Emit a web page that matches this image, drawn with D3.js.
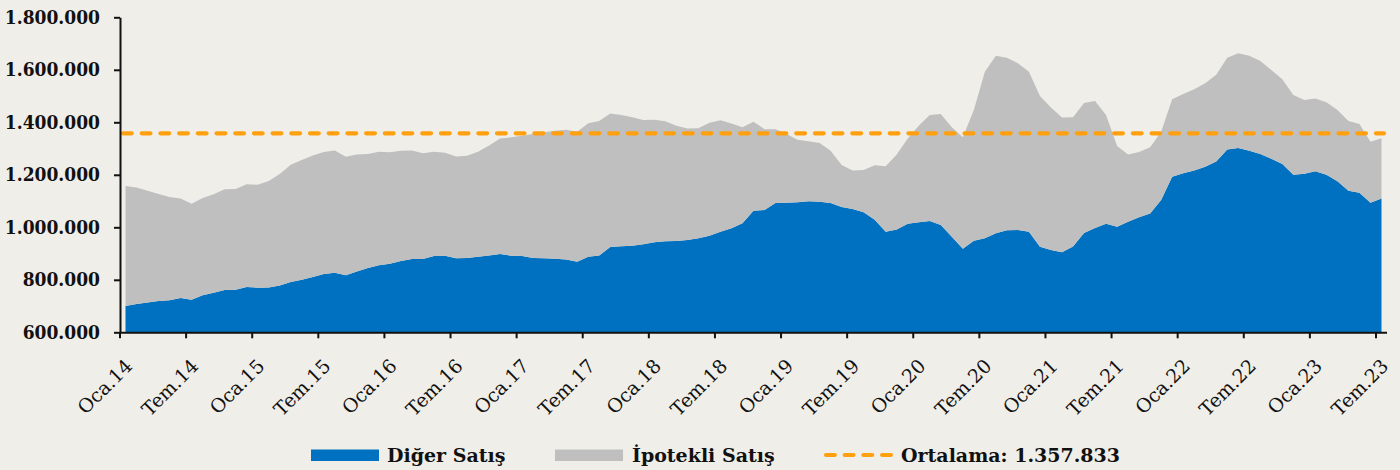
<!DOCTYPE html>
<html><head><meta charset="utf-8">
<script src="https://cdn.jsdelivr.net/npm/d3@7"></script>
<style>
body{margin:0;background:#F0EEE8;}
svg{display:block;}
</style>
</head><body>
<svg id="chart" width="1400" height="470"></svg>
<script>
// ---- data ----
const monthNames = ["Oca","Şub","Mar","Nis","May","Haz","Tem","Ağu","Eyl","Eki","Kas","Ara"];
const years = ["14","15","16","17","18","19","20","21","22","23"];
const categories = [];
years.forEach(y => monthNames.forEach(m => categories.push(m + "." + y)));
categories.splice(115); // Oca.14 ... Tem.23

const digerSatis = [
 700000,708000,714000,719000,722000,731000,724000,741000,751000,761000,762000,773000,
 770000,771000,778000,792000,800000,811000,822000,827000,817000,832000,845000,855000,
 861000,872000,879000,879000,891000,892000,882000,883000,888000,893000,898000,892000,
 891000,883000,882000,880000,877000,869000,888000,893000,925000,928000,930000,935000,
 943000,947000,948000,952000,958000,968000,983000,996000,1015000,1063000,1066000,1093000,
 1094000,1095000,1099000,1097000,1093000,1077000,1070000,1057000,1029000,983000,992000,1014000,
 1019000,1024000,1009000,964000,918000,949000,958000,977000,989000,990000,983000,926000,
 914000,905000,927000,978000,997000,1014000,1002000,1021000,1038000,1053000,1104000,1193000,
 1206000,1216000,1231000,1251000,1296000,1302000,1292000,1279000,1261000,1241000,1200000,1204000,
 1214000,1200000,1175000,1139000,1132000,1094000,1110000
];
const ipotekliSatis = [
 457000,444000,425000,408000,393000,379000,366000,371000,375000,384000,384000,391000,
 392000,405000,425000,446000,456000,463000,465000,466000,452000,445000,434000,433000,
 425000,420000,414000,403000,397000,392000,388000,390000,400000,419000,440000,451000,
 458000,472000,480000,488000,495000,495000,508000,512000,509000,500000,489000,474000,
 467000,457000,439000,424000,419000,430000,425000,399000,366000,339000,308000,281000,
 261000,239000,229000,224000,199000,160000,146000,161000,207000,250000,285000,324000,
 368000,404000,423000,417000,425000,498000,635000,677000,657000,635000,610000,574000,
 542000,513000,492000,496000,484000,414000,308000,256000,249000,252000,260000,295000,
 302000,310000,318000,330000,350000,361000,362000,355000,338000,323000,304000,281000,
 277000,276000,272000,266000,262000,232000,229000
];
const ortalama = 1357833;
const yTicks = [600000,800000,1000000,1200000,1400000,1600000,1800000];
const xTickLabels = ["Oca.14","Tem.14","Oca.15","Tem.15","Oca.16","Tem.16","Oca.17","Tem.17",
 "Oca.18","Tem.18","Oca.19","Tem.19","Oca.20","Tem.20","Oca.21","Tem.21","Oca.22","Tem.22","Oca.23","Tem.23"];
const seriesNames = ["Diğer Satış","İpotekli Satış","Ortalama: 1.357.833"];
const colors = ["#0070C0","#BFBFBF","#FFA010"];

// ---- chart ----
const svg = d3.select("#chart");
svg.append("rect").attr("width",1400).attr("height",470).attr("fill","#F0EEE8");

const plotLeft = 120, plotRight = 1387, plotTop = 17.3, plotBottom = 332.3;
const fontCond = "'DejaVu Serif Condensed','DejaVu Serif',serif";
const fontWide = "'DejaVu Serif',serif";

const trFmt = d3.formatLocale({decimal:",", thousands:".", grouping:[3], currency:["",""]}).format(",d");

const x = d3.scaleBand().domain(categories).range([plotLeft, plotRight]).paddingInner(0).paddingOuter(0);
const bw = x.bandwidth();
const cx = c => x(c) + bw/2;
const y = d3.scaleLinear().domain([600000,1800000]).range([plotBottom, plotTop]).clamp(true);

const rows = categories.map((c,i) => ({cat:c, diger:digerSatis[i], ipotekli:ipotekliSatis[i]}));
const stack = d3.stack().keys(["diger","ipotekli"])(rows);

const area = d3.area()
  .x(d => cx(d.data.cat))
  .y0(d => y(d[0]))
  .y1(d => y(d[1]));

svg.append("g").selectAll("path").data(stack).join("path")
  .attr("d", area)
  .attr("fill", (d,i) => colors[i]);

// average line
svg.append("line")
  .attr("x1", plotLeft + 3).attr("x2", plotRight - 3)
  .attr("y1", y(ortalama)).attr("y2", y(ortalama))
  .attr("stroke", colors[2]).attr("stroke-width", 4.2)
  .attr("stroke-dasharray", "8.8,9.9").attr("stroke-linecap","round");

// y axis
const yAxis = svg.append("g").attr("transform", `translate(${plotLeft},0)`)
  .call(d3.axisLeft(y).tickValues(yTicks).tickFormat(trFmt).tickSize(6).tickSizeOuter(0).tickPadding(14));
yAxis.select(".domain").attr("stroke","#111").attr("stroke-width",2);
yAxis.selectAll(".tick line").attr("stroke","#111").attr("stroke-width",2);
yAxis.selectAll(".tick text")
  .attr("font-family", fontCond).attr("font-weight","bold")
  .attr("font-size", 19).attr("fill","#111");

// x axis (ticks on category boundaries)
const xAxis = svg.append("g").attr("transform", `translate(0,${plotBottom})`)
  .call(d3.axisBottom(x).tickValues(xTickLabels).tickSize(6).tickSizeOuter(0).tickFormat(""));
xAxis.selectAll(".tick").attr("transform", d => `translate(${x(d)},0)`);
xAxis.select(".domain").attr("stroke","#111").attr("stroke-width",2)
  .attr("d", `M${plotLeft},0.5H${plotRight}`);
xAxis.selectAll(".tick line").attr("stroke","#111").attr("stroke-width",2);

svg.append("g").selectAll("text").data(xTickLabels).join("text")
  .attr("transform", d => `translate(${cx(d) + 8},${plotBottom + 35}) rotate(-45)`)
  .attr("text-anchor","end")
  .attr("font-family", fontWide)
  .attr("font-size", 19).attr("fill","#111")
  .text(d => d);

// legend
const lg = svg.append("g").attr("font-family", fontWide).attr("font-weight","bold")
  .attr("font-size", 19).attr("fill","#111");
lg.append("rect").attr("x",311).attr("y",449.5).attr("width",68).attr("height",11.5).attr("fill",colors[0]);
lg.append("text").attr("x",387).attr("y",462).text(seriesNames[0]);
lg.append("rect").attr("x",555).attr("y",449.5).attr("width",68).attr("height",11.5).attr("fill",colors[1]);
lg.append("text").attr("x",632).attr("y",462).text(seriesNames[1]);
lg.append("line").attr("x1",826).attr("x2",891).attr("y1",455).attr("y2",455)
  .attr("stroke",colors[2]).attr("stroke-width",4.2)
  .attr("stroke-dasharray","8.8,9.9").attr("stroke-linecap","round");
lg.append("text").attr("x",901).attr("y",462).text(seriesNames[2]);
</script>
</body></html>
